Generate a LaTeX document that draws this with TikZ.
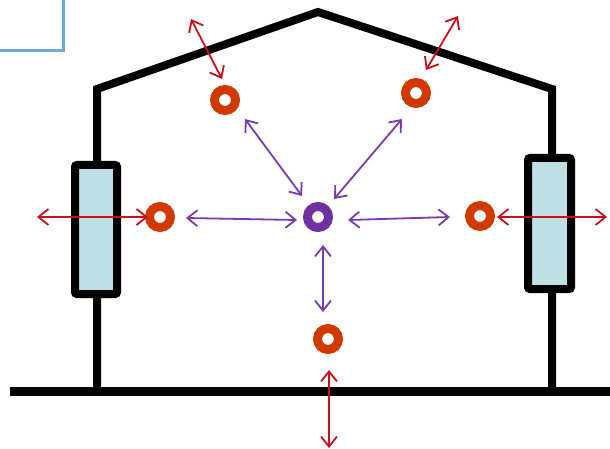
\documentclass[tikz,border=0pt]{standalone}
\usetikzlibrary{arrows.meta}
\definecolor{ringor}{HTML}{D03A00}
\definecolor{ringpu}{HTML}{7030A0}
\definecolor{arrred}{HTML}{C8101A}
\definecolor{arrpu}{HTML}{7A3AAE}
\definecolor{resfill}{HTML}{BCE0E4}
\definecolor{boxblue}{HTML}{6FA8DC}
\begin{document}
\begin{tikzpicture}[x=1pt,y=-1pt,
  wall/.style={line width=8pt,black,line join=miter},
  resbox/.style={draw=black,line width=8pt,fill=resfill,rounded corners=2pt},
  ringo/.style={circle,draw=ringor,line width=9pt,minimum size=21pt,inner sep=0pt},
  ringp/.style={circle,draw=ringpu,line width=9pt,minimum size=21pt,inner sep=0pt},
  redarr/.style={arrred,line width=1.8pt,{Straight Barb[length=10pt,width=16pt]}-{Straight Barb[length=10pt,width=16pt]}},
  puarr/.style={arrpu,line width=1.8pt,{Straight Barb[length=10pt,width=16pt]}-{Straight Barb[length=10pt,width=16pt]}}]
\useasboundingbox (0,0) rectangle (610,449);
% blue box corner
\draw[boxblue,line width=3pt] (-10,-10) rectangle (63,51);
% house
\coordinate (gl) at (10,391);
\coordinate (gr) at (612,391);
\coordinate (lw) at (97,391);
\coordinate (rw) at (552,391);
\coordinate (lt) at (97,89);
\coordinate (pk) at (318,12);
\coordinate (rt) at (552,89);
\draw[wall] (lw) -- (lt) -- (pk) -- (rt) -- (rw);
\draw[line width=9pt,black] (gl) -- (gr);
% resistors
\node[resbox,minimum width=42pt,minimum height=129pt,inner sep=0pt] (resL) at (96,229.5) {};
\node[resbox,minimum width=43pt,minimum height=131pt,inner sep=0pt] (resR) at (549.5,223.5) {};
% rings
\node[ringo] (tl) at (225,100) {};
\node[ringo] (tr) at (416,93) {};
\node[ringo] (ml) at (160,217) {};
\node[ringo] (mr) at (480,216) {};
\node[ringo] (bm) at (328,339) {};
\node[ringp] (c) at (318,217) {};
% arrow end points
\coordinate (a1) at (191,19); \coordinate (a2) at (222,79);
\coordinate (b1) at (458,16); \coordinate (b2) at (426,70);
\coordinate (l1) at (37,217); \coordinate (l2) at (148,217);
\coordinate (r1) at (497,217); \coordinate (r2) at (607,217);
\coordinate (d1) at (329,370); \coordinate (d2) at (329,448);
\coordinate (p1) at (245,119); \coordinate (p2) at (302,196);
\coordinate (q1) at (402,119); \coordinate (q2) at (334,199);
\coordinate (s1) at (186,218); \coordinate (s2) at (297,220);
\coordinate (t1) at (348,220); \coordinate (t2) at (450,217);
\coordinate (u1) at (323,245); \coordinate (u2) at (323,312);
% red arrows
\draw[redarr] (a1) -- (a2);
\draw[redarr] (b1) -- (b2);
\draw[redarr] (l1) -- (l2);
\draw[redarr] (r1) -- (r2);
\draw[redarr] (d1) -- (d2);
% purple arrows
\draw[puarr] (p1) -- (p2);
\draw[puarr] (q1) -- (q2);
\draw[puarr] (s1) -- (s2);
\draw[puarr] (t1) -- (t2);
\draw[puarr] (u1) -- (u2);
\end{tikzpicture}
\end{document}
